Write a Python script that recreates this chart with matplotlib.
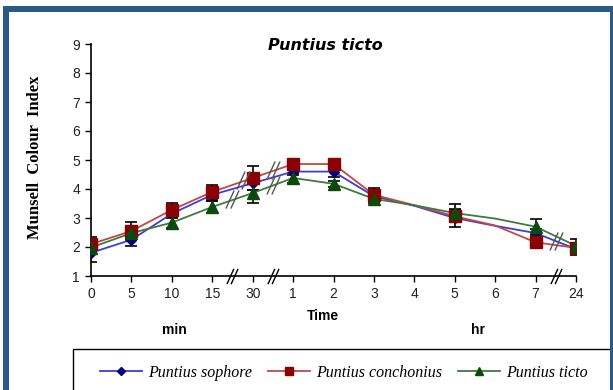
import matplotlib.pyplot as plt
from matplotlib.patches import Rectangle
from matplotlib.path import Path
from matplotlib.lines import Line2D

# time points: minutes first, then hours
time_labels = ["0", "5", "10", "15", "30", "1", "2", "3", "4", "5", "6", "7", "24"]

sophore = [1.80, 2.25, 3.15, 3.80, 4.20, 4.60, 4.60, 3.75, 3.42, 3.00, 2.73, 2.48, 1.93]
sophore_err = [0.30, 0.20, 0.15, 0.20, 0.25, 0.10, 0.20, 0.15, 0, 0.30, 0, 0.15, 0.20]

conchonius = [2.10, 2.55, 3.28, 3.90, 4.38, 4.86, 4.86, 3.80, 3.44, 3.06, 2.74, 2.16, 1.97]
conchonius_err = [0.25, 0.30, 0.25, 0.25, 0.40, 0.05, 0.05, 0.22, 0, 0.20, 0, 0.20, 0.15]

ticto = [1.98, 2.48, 2.84, 3.38, 3.86, 4.38, 4.18, 3.66, 3.44, 3.17, 2.98, 2.70, 2.04]
ticto_err = [0.20, 0.20, 0.20, 0.20, 0.35, 0.18, 0.10, 0.15, 0, 0.30, 0, 0.27, 0.25]

W, H = 613, 390
fig = plt.figure(figsize=(W / 100, H / 100), dpi=100)
fig.patch.set_facecolor("white")

ax = fig.add_axes([91 / W, 1 - 276 / H, 485 / W, 232 / H])
x = list(range(len(time_labels)))
# no markers drawn at 4 h and 6 h
with_marker = [i for i in x if i not in (8, 10)]

series = [
    ("Puntius sophore", sophore, sophore_err, "#3c3ce0", "#000080", "D", 5),
    ("Puntius conchonius", conchonius, conchonius_err, "#c04848", "#8b0000", "s", 8.5),
    ("Puntius ticto", ticto, ticto_err, "#3f7a3f", "#0b4a0b", "^", 8.5),
]

for name, vals, errs, lc, mc, mk, ms in series:
    xe = [i for i in x if errs[i] > 0]
    ax.errorbar(xe, [vals[i] for i in xe], yerr=[errs[i] for i in xe],
                fmt="none", ecolor="black", elinewidth=1.2, capsize=4,
                capthick=1.2, zorder=2)

for name, vals, errs, lc, mc, mk, ms in series:
    ax.plot(x, vals, color=lc, lw=1.3, zorder=3)
    ax.plot([x[i] for i in with_marker], [vals[i] for i in with_marker],
            ls="none", marker=mk, ms=ms, color=mc, zorder=4)

# axis-break marker: two short parallel slashes
brk = Path([(-1.6, -2.2), (0.4, 2.2), (-0.4, -2.2), (1.6, 2.2)],
           [Path.MOVETO, Path.LINETO, Path.MOVETO, Path.LINETO])


def draw_break(xp, yp, color="#555555", size=13):
    ax.plot([xp], [yp], marker=brk, ms=size, mec=color, mew=1.0,
            ls="none", clip_on=False, zorder=5)


for xb in (3.5, 4.5, 11.5):
    draw_break(xb, 1, color="black", size=11)


def interp(vals, xp):
    i = int(xp)
    t = xp - i
    return vals[i] * (1 - t) + vals[i + 1] * t


draw_break(3.75, interp(conchonius, 3.75) + 0.05)
draw_break(3.5, interp(ticto, 3.5) + 0.02)
draw_break(4.5, interp(conchonius, 4.5) + 0.05)
draw_break(4.5, interp(ticto, 4.5) + 0.02)
draw_break(11.5, interp(sophore, 11.5))

ax.set_xlim(0, 12)
ax.set_ylim(1, 9)
ax.set_xticks(x)
ax.set_xticklabels(time_labels)
ax.set_yticks(range(1, 10))
for s in ("top", "right"):
    ax.spines[s].set_visible(False)
for s in ("left", "bottom"):
    ax.spines[s].set_linewidth(1.2)
ax.tick_params(direction="out", length=4, width=1, labelsize=10,
               labelcolor="#222222", pad=4)
for lab in ax.get_xticklabels() + ax.get_yticklabels():
    lab.set_family("Liberation Sans")

fig.text(325 / W, 1 - 46 / H, "Puntius ticto", ha="center", va="center",
         fontsize=11.5, fontweight="bold", fontstyle="italic",
         family="DejaVu Sans")
fig.text(35 / W, 1 - 157 / H, "Munsell  Colour  Index", rotation=90,
         ha="center", va="center", fontsize=12, fontweight="bold",
         family="Liberation Serif")
fig.text(323 / W, 1 - 316 / H, "Time", ha="center", va="center",
         fontsize=10, fontweight="bold", family="Liberation Sans")
fig.text(174 / W, 1 - 330 / H, "min", ha="center", va="center",
         fontsize=10, fontweight="bold", family="Liberation Sans")
fig.text(478 / W, 1 - 330 / H, "hr", ha="center", va="center",
         fontsize=10, fontweight="bold", family="Liberation Sans")

# legend box runs past the bottom and right edge
fig.patches.append(Rectangle((73 / W, 1 - 400 / H), 560 / W, 51 / H,
                             transform=fig.transFigure, fill=False,
                             edgecolor="black", lw=1.0))
handles = [Line2D([], [], color=lc, lw=1.3, marker=mk, ms=ms * 0.75,
                  mfc=mc, mec=mc) for _, _, _, lc, mc, mk, ms in series]
fig.legend(handles, [s[0] for s in series], loc="center left",
           bbox_to_anchor=(86 / W, 1 - 373 / H), ncol=3, frameon=False,
           handlelength=2.6, handletextpad=0.4, columnspacing=1.0,
           prop={"family": "Liberation Serif", "style": "italic",
                 "size": 11.5})

# blue border around the figure
border = "#2c5a88"
fig.patches.append(Rectangle((3 / W, 0), 6 / W, 1 - 6 / H,
                             transform=fig.transFigure, color=border, lw=0))
fig.patches.append(Rectangle((3 / W, 1 - 12 / H), 610 / W, 6 / H,
                             transform=fig.transFigure, color=border, lw=0))
fig.patches.append(Rectangle((610 / W, 0), 3 / W, 1 - 6 / H,
                             transform=fig.transFigure, color=border, lw=0))

fig.savefig("out.png", dpi=100)
